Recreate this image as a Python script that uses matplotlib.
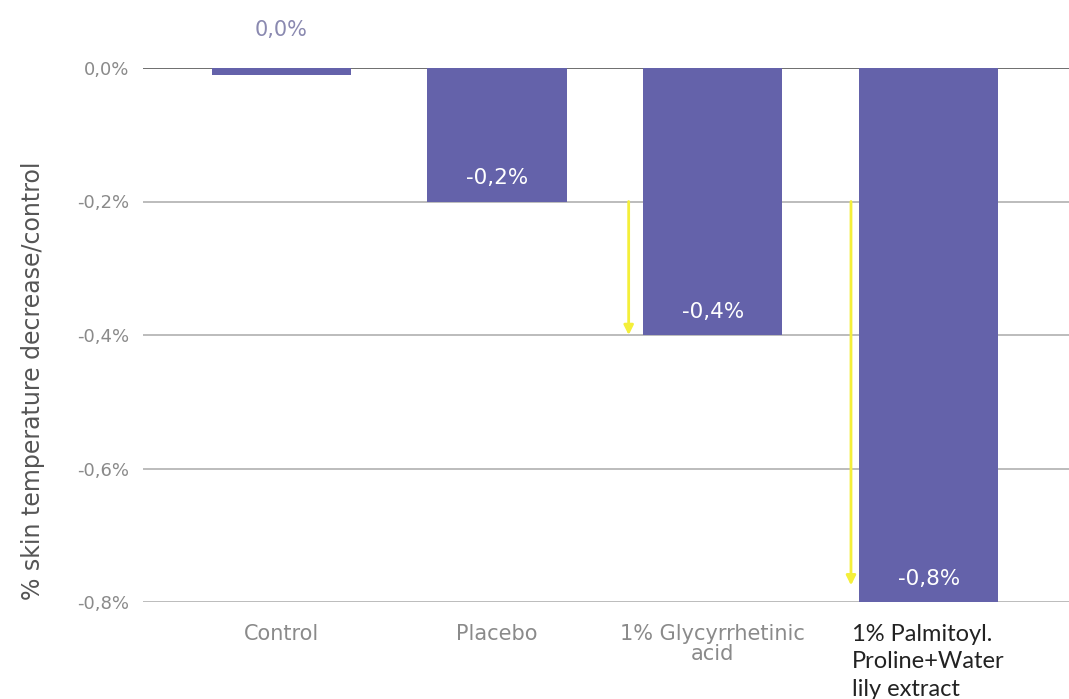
import matplotlib
matplotlib.use('Agg')
import matplotlib.pyplot as plt

# data
categories = ['Control', 'Placebo', '1% Glycyrrhetinic\nacid', '']
last_category = '1% Palmitoyl.\nProline+Water\nlily extract'
values = [-0.01, -0.2, -0.4, -0.8]
value_labels = ['0,0%', '-0,2%', '-0,4%', '-0,8%']
yticks = [0.0, -0.2, -0.4, -0.6, -0.8]
ytick_labels = ['0,0%', '-0,2%', '-0,4%', '-0,6%', '-0,8%']
# yellow arrows: (x, y_start, y_end)
arrows = [(1.61, -0.2, -0.4), (2.64, -0.2, -0.775)]

bar_color = '#6462aa'
grey = '#8a8a8a'

plt.rcParams['font.family'] = ['DejaVu Sans']

fig = plt.figure(figsize=(10.69, 6.99), dpi=100)
ax = fig.add_axes([143 / 1069, 1 - 602 / 699, (1069 - 143) / 1069, (602 - 68) / 699])

x = list(range(len(values)))
ax.bar(x, values, width=0.645, color=bar_color, zorder=3)

ax.set_xlim(-0.64, 3.65)
ax.set_ylim(-0.8, 0.0)

for yv in yticks:
    ax.axhline(yv, color='#555555' if yv == 0 else '#b0b0b0', lw=1.2, zorder=1)

ax.set_yticks(yticks)
ax.set_yticklabels(ytick_labels, color=grey, fontsize=13)
ax.tick_params(axis='y', length=0, pad=10)
ax.set_xticks(x)
ax.set_xticklabels(categories, color=grey, fontsize=15, linespacing=1.0)
ax.tick_params(axis='x', length=0, pad=16)

ax.text(2.643, -0.833, last_category, ha='left', va='top',
        fontsize=17, color='#222222', family=['Lato', 'DejaVu Sans'],
        linespacing=1.38)

for s in ax.spines.values():
    s.set_visible(False)

ax.set_ylabel('% skin temperature decrease/control', fontsize=17, color='#555555')
ax.yaxis.set_label_coords(-0.106, 0.414)

# value labels
ax.text(0, 0.057, value_labels[0], ha='center', va='center', fontsize=15, color='#8a89b0')
for i in range(1, len(values)):
    ax.text(i, values[i] + 0.035, value_labels[i], ha='center', va='center',
            fontsize=15.5, color='white', zorder=4)

for ax_x, y0, y1 in arrows:
    ax.annotate('', xy=(ax_x, y1), xytext=(ax_x, y0),
                arrowprops=dict(arrowstyle='-|>', color='#f4ef3a', lw=2,
                                mutation_scale=14, shrinkA=0, shrinkB=0), zorder=5)

fig.savefig('out.png', dpi=100)
